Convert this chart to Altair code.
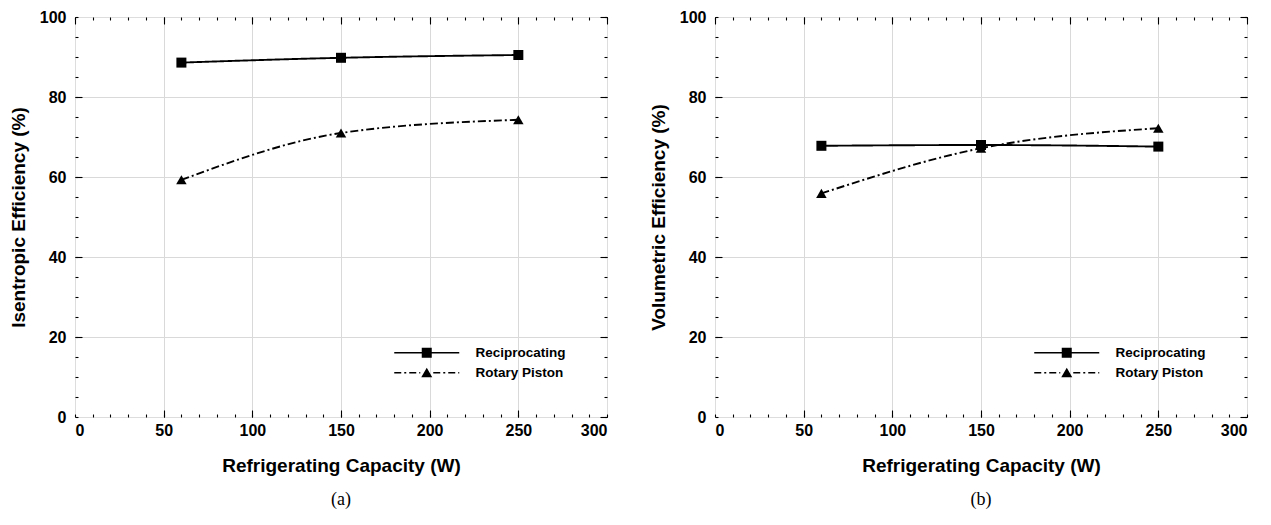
import altair as alt
import pandas as pd

# ---------------- data ----------------
capacity = [60, 150, 250]
isentropic_recip = [88.6, 89.8, 90.5]
isentropic_rotary = [59.3, 71.0, 74.3]
volumetric_recip = [67.8, 68.0, 67.6]
volumetric_rotary = [55.9, 67.2, 72.2]
series_names = ["Reciprocating", "Rotary Piston"]
x_title = "Refrigerating Capacity (W)"
y_titles = ["Isentropic Efficiency (%)", "Volumetric Efficiency (%)"]
captions = ["(a)", "(b)"]
x_labels = [0, 50, 100, 150, 200, 250, 300]
x_grid = [50, 100, 150, 200, 250]
x_minor = list(range(0, 301, 10))
y_labels = [0, 20, 40, 60, 80, 100]
y_grid = [20, 40, 60, 80]
y_minor = list(range(0, 101, 5))

FONT = "Liberation Sans"
GRID = "#d9d9d9"


# ------------- legend symbol paths (line + marker), drawn as filled shapes -------------
def bar(a, b, h=0.17):
    return f"M{a:.2f},{-h:.2f}H{b:.2f}V{h:.2f}H{a:.2f}Z"


def dash_segments(a, b, pattern=(1.4, 0.6, 0.4, 0.6)):
    segs = []
    pos = a
    i = 0
    while pos < b - 1e-9:
        length = pattern[i % len(pattern)]
        end = min(pos + length, b)
        if i % 2 == 0:
            segs.append(bar(pos, end, 0.15))
        pos = end
        i += 1
    return "".join(segs)


SQUARE = "M-1,-1H1V1H-1Z"
TRIANGLE = "M0,-1L1.1,0.9L-1.1,0.9Z"
recip_path = bar(-6.5, -1.0) + SQUARE + bar(1.0, 6.5)
rotary_path = dash_segments(-6.5, -1.3) + TRIANGLE + dash_segments(1.3, 6.5)


def make_legend():
    return alt.Legend(
        orient="none",
        legendX=345,
        legendY=329,
        title=None,
        padding=0,
        symbolSize=100,
        symbolFillColor="black",
        symbolStrokeColor="black",
        symbolStrokeWidth=0,
        symbolOpacity=1,
        labelFont=FONT,
        labelFontSize=13.5,
        labelFontWeight="bold",
        labelColor="black",
        labelOffset=42,
        rowPadding=5,
    )


def tick_axis(orient, values, size, grid=False):
    return alt.Axis(
        orient=orient,
        values=values,
        labels=False,
        domain=False,
        grid=grid,
        gridColor=GRID,
        gridWidth=1,
        ticks=True,
        tickSize=size,
        offset=-size,
        tickColor="black",
        tickWidth=1.1,
        title=None,
    )


def panel(recip, rotary, y_title, caption):
    df = pd.DataFrame(
        {
            "capacity": capacity + capacity,
            "efficiency": recip + rotary,
            "series": [series_names[0]] * len(capacity)
            + [series_names[1]] * len(capacity),
        }
    )
    xs = alt.Scale(domain=[0, 300], nice=False, zero=False)
    ys = alt.Scale(domain=[0, 100], nice=False, zero=False)

    main_x = alt.Axis(
        orient="bottom",
        values=x_labels,
        grid=False,
        ticks=False,
        domain=False,
        labelFont=FONT,
        labelFontSize=16,
        labelFontWeight="bold",
        labelColor="black",
        labelPadding=5,
        titleFont=FONT,
        titleFontSize=19,
        titleFontWeight="bold",
        titleColor="black",
        titlePadding=18,
    )
    main_y = alt.Axis(
        orient="left",
        values=y_labels,
        grid=False,
        ticks=False,
        domain=False,
        labelFont=FONT,
        labelFontSize=16,
        labelFontWeight="bold",
        labelColor="black",
        labelPadding=9,
        titleFont=FONT,
        titleFontSize=19,
        titleFontWeight="bold",
        titleColor="black",
        titlePadding=11,
    )

    base = alt.Chart(df)
    lines = base.mark_line(
        color="black", strokeWidth=1.9, interpolate="monotone"
    ).encode(
        x=alt.X("capacity:Q", scale=xs, axis=main_x, title=x_title),
        y=alt.Y("efficiency:Q", scale=ys, axis=main_y, title=y_title),
        strokeDash=alt.StrokeDash(
            "series:N",
            scale=alt.Scale(domain=series_names, range=[[1, 0], [8, 3, 2, 3]]),
            legend=None,
        ),
    )
    points = base.mark_point(filled=True, color="black", opacity=1).encode(
        x=alt.X("capacity:Q", axis=tick_axis("bottom", x_grid, 7, grid=True)),
        y=alt.Y("efficiency:Q", axis=tick_axis("left", y_grid, 7, grid=True)),
        shape=alt.Shape(
            "series:N",
            scale=alt.Scale(domain=series_names, range=["square", "triangle-up"]),
            legend=None,
        ),
        size=alt.Size(
            "series:N",
            scale=alt.Scale(domain=series_names, range=[100, 110]),
            legend=None,
        ),
    )
    ghost1 = base.mark_point(opacity=0).encode(
        x=alt.X("capacity:Q", axis=tick_axis("bottom", x_minor, 3)),
        y=alt.Y("efficiency:Q", axis=tick_axis("left", y_minor, 3)),
    )
    ghost2 = base.mark_point(opacity=0).encode(
        x=alt.X("capacity:Q", axis=tick_axis("top", x_labels, 7)),
        y=alt.Y("efficiency:Q", axis=tick_axis("right", y_labels, 7)),
    )
    ghost3 = base.mark_point(opacity=0).encode(
        x=alt.X("capacity:Q", axis=tick_axis("top", x_minor, 3)),
        y=alt.Y("efficiency:Q", axis=tick_axis("right", y_minor, 3)),
    )
    legend_layer = (
        base.transform_filter("false")
        .mark_point(filled=True, color="black")
        .encode(
            x=alt.X("capacity:Q", axis=None),
            y=alt.Y("efficiency:Q", axis=None),
            shape=alt.Shape(
                "series:N",
                scale=alt.Scale(domain=series_names, range=[recip_path, rotary_path]),
                legend=make_legend(),
            ),
        )
    )
    return (
        alt.layer(lines, points, ghost1, ghost2, ghost3, legend_layer)
        .resolve_axis(x="independent", y="independent")
        .resolve_scale(shape="independent")
        .properties(
            width=532,
            height=400,
            title=alt.TitleParams(
                caption,
                orient="bottom",
                frame="group",
                anchor="middle",
                font="Liberation Serif",
                fontSize=18,
                fontWeight="normal",
                color="black",
                offset=16,
            ),
        )
    )


left = panel(isentropic_recip, isentropic_rotary, y_titles[0], captions[0])
right = panel(volumetric_recip, volumetric_rotary, y_titles[1], captions[1])

chart = (
    alt.hconcat(left, right, spacing=108, bounds="flush")
    .properties(padding={"left": 0, "top": 0, "right": 5, "bottom": 5})
    .configure_view(stroke="black", strokeWidth=1.3)
    .configure(background="white")
)

chart.save("out.html", embed_options={"renderer": "svg", "actions": False})
